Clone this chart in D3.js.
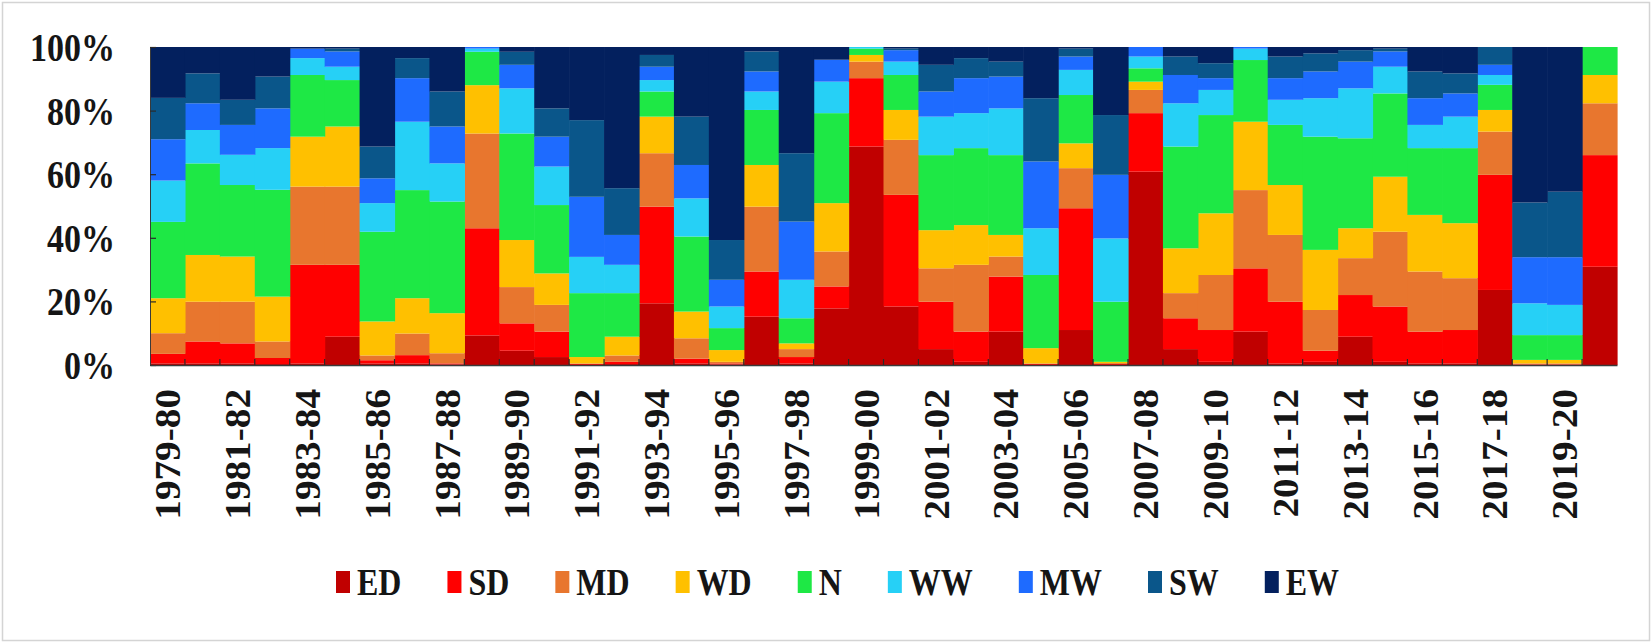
<!DOCTYPE html>
<html>
<head>
<meta charset="utf-8">
<script src="https://cdn.jsdelivr.net/npm/d3@7"></script>
<style>
  html, body { margin: 0; padding: 0; background: #ffffff; }
  svg text { font-family: "Liberation Serif", "Times New Roman", serif; font-weight: bold; fill: #151515; }
</style>
</head>
<body>
<svg id="chart" width="1652" height="643"></svg>
<script>
// ---------- data ----------
const seasons = [
  "1979-80","1980-81","1981-82","1982-83","1983-84","1984-85","1985-86","1986-87","1987-88","1988-89",
  "1989-90","1990-91","1991-92","1992-93","1993-94","1994-95","1995-96","1996-97","1997-98","1998-99",
  "1999-00","2000-01","2001-02","2002-03","2003-04","2004-05","2005-06","2006-07","2007-08","2008-09",
  "2009-10","2010-11","2011-12","2012-13","2013-14","2014-15","2015-16","2016-17","2017-18","2018-19",
  "2019-20","2020-21"
];
const tickLabels = [
  "1979-80","1981-82","1983-84","1985-86","1987-88","1989-90","1991-92","1993-94","1995-96","1997-98",
  "1999-00","2001-02","2003-04","2005-06","2007-08","2009-10","2011-12","2013-14","2015-16","2017-18","2019-20"
];
const yTickLabels = ["0%","20%","40%","60%","80%","100%"];
const seriesNames = ["ED","SD","MD","WD","N","WW","MW","SW","EW"];
const seriesColors = ["#C00000","#FF0000","#E8762E","#FFC000","#1EE845","#26D0F6","#1E6BFF","#0A568A","#03205E"];

const ED = [0.5,0.5,0.5,0.3,0.5,8.9,0.5,0.5,0.2,9.3, 4.5,2.5,0,0.3,19.4,0.5,0.2,15.2,0.5,17.8, 68.7,18.4,5,1,10.5,0,11,0,60.8,5, 1,10.5,0.5,1,8.9,1,0.5,0.5,23.6,0, 0,30.9];
const SD = [3,6.9,6.3,1.9,31,22.6,1,2.6,0.3,33.7, 8.6,8,0.3,0.7,30.4,1.5,0.3,14.2,2,6.9, 21.5,35.1,14.9,9.5,17.3,0.3,38.3,0.3,18.4,9.7, 10,19.9,19.4,3.5,13.1,17.4,10,10.5,36.2,0.2, 0.2,35.1];
const MD = [6.5,12.5,13.1,5.2,24.6,24.6,1.5,6.8,3.2,29.8, 11.4,8.4,0.2,2,16.8,6.4,0.5,20.4,2.5,11, 5.2,17.3,10.5,21,6.3,0.2,12.6,0.3,7.3,7.9, 17.3,24.6,21,12.8,11.6,23.5,18.9,16.3,13.6,0.3, 0.3,16.3];
const WD = [11,14.7,14.2,14.1,15.7,18.9,10.7,11.1,12.6,15.2, 14.8,9.9,2,5.9,11.5,8.4,3.7,13.1,1.8,15.2, 2.1,9.4,12,12.5,6.8,4.8,7.8,0.4,2.6,14.1, 19.4,21.5,15.7,18.9,9.4,17.3,17.8,17.3,6.8,1.1, 1.1,8.9];
const N  = [24,28.8,22.5,33.6,19.4,14.6,28.2,34,35.1,10.5, 33.5,21.5,20.1,13.7,7.9,23.6,6.9,17.3,7.9,28.3, 2,11,23.6,24.2,25.1,23,15.2,18.9,4.2,32, 30.9,19.4,18.9,35.6,28.3,26.2,21,23.6,7.9,7.8, 7.8,8.8];
const WW = [13,10.5,9.5,13.1,5.3,4.2,9,21.5,12,1, 14.2,12.1,11.4,8.9,3.6,12,6.8,5.8,12.1,9.9, 0.5,4.2,12.1,11,14.7,14.7,7.9,19.9,3.7,13.6, 7.9,3.6,7.9,12.1,15.7,8.4,7.3,9.9,3.1,10, 9.5,0];
const MW = [13,8.4,9.4,12.5,3,4.8,7.8,13.7,11.6,0.5, 7.4,9.4,18.9,9.4,4.2,10.5,8.4,6.3,18.3,6.9, 0,3.6,7.9,11,10,21,4.2,20,3,8.9, 3.7,0.5,6.8,8.4,8.4,4.8,8.4,7.3,3.2,14.5, 15,0];
const SW = [13,9.4,7.9,10,0,0.9,10,6.3,11,0, 4.1,8.9,24.1,14.7,3.7,15.2,12.5,6.3,21.5,0, 0,0.5,8.4,6.3,4.7,19.9,2.5,18.8,0,5.8, 4.7,0,6.8,5.7,3.6,0.9,8.4,6.3,5.6,17.2, 20.6,0];
const EW = [16,8.3,16.6,9.3,0.5,0.5,31.3,3.5,14,0, 1.5,19.3,23,44.4,2.5,21.9,60.7,1.4,33.4,4, 0,0.5,5.6,3.5,4.6,16.1,0.5,21.4,0,3, 5.1,0,3,2,1,0.5,7.7,8.3,0,48.9, 45.5,0];

const seriesValues = [ED, SD, MD, WD, N, WW, MW, SW, EW];

// ---------- layout ----------
const svg = d3.select("#chart");
const W = 1652, H = 643;
const margin = {left: 150, right: W - 1617, top: 47, bottom: H - 365};
const plotW = W - margin.left - margin.right;
const plotH = H - margin.top - margin.bottom;

// outer frame
svg.append("rect")
  .attr("x", 2.5).attr("y", 2.5).attr("width", W - 5).attr("height", H - 5)
  .attr("fill", "#ffffff").attr("stroke", "#d4d4d4").attr("stroke-width", 1.5);

const rows = seasons.map((s, i) => {
  const r = {season: s};
  seriesNames.forEach((k, j) => r[k] = seriesValues[j][i]);
  return r;
});

const stack = d3.stack().keys(seriesNames).offset(d3.stackOffsetExpand);
const layers = stack(rows);

const x = d3.scaleBand().domain(seasons).range([0, plotW]).paddingInner(0).paddingOuter(0);
const y = d3.scaleLinear().domain([0, 1]).range([plotH, 0]);
const color = d3.scaleOrdinal().domain(seriesNames).range(seriesColors);

const g = svg.append("g").attr("transform", `translate(${margin.left},${margin.top})`);

g.selectAll("g.layer")
  .data(layers)
  .join("g")
  .attr("class", "layer")
  .attr("fill", d => color(d.key))
  .selectAll("rect")
  .data(d => d)
  .join("rect")
  .attr("x", d => x(d.data.season))
  .attr("width", x.bandwidth() + 0.6)
  .attr("y", d => y(d[1]))
  .attr("height", d => Math.max(0, y(d[0]) - y(d[1])));

// y axis
const yAxis = d3.axisLeft(y)
  .tickValues([0, 0.2, 0.4, 0.6, 0.8, 1])
  .tickFormat((d, i) => yTickLabels[i])
  .tickSizeInner(-6).tickSizeOuter(0).tickPadding(35);
const yg = g.append("g").call(yAxis);
yg.select(".domain").attr("stroke", "#3a3a3a").attr("stroke-width", 1);
yg.selectAll(".tick line").attr("stroke", "#2a2a2a").attr("stroke-width", 1.2);
yg.selectAll("text")
  .attr("font-size", 34).attr("fill", "#151515").attr("dy", "0.34em")
  .attr("transform", "scale(1,1.16)");

// x axis
const labelSet = new Set(tickLabels);
const xAxis = d3.axisBottom(x)
  .tickValues(seasons)
  .tickFormat(d => labelSet.has(d) ? d : "")
  .tickSizeInner(0).tickSizeOuter(0);
const xg = g.append("g").attr("transform", `translate(0,${plotH})`).call(xAxis);
xg.select(".domain").attr("stroke", "#3a3a3a").attr("stroke-width", 1.5);
xg.selectAll(".tick text")
  .attr("font-size", 36)
  .attr("fill", "#151515")
  .attr("text-anchor", "end")
  .attr("transform", "scale(1,1.09) rotate(-90)")
  .attr("x", -22)
  .attr("y", 0)
  .attr("dy", "0.35em");

// small inward ticks on boundaries
const boundaries = seasons.slice(1).map(s => x(s));
g.append("g").selectAll("line")
  .data(boundaries)
  .join("line")
  .attr("x1", d => d).attr("x2", d => d)
  .attr("y1", plotH).attr("y2", plotH - 6)
  .attr("stroke", "#2a2a2a").attr("stroke-width", 1.2);

// legend
const legend = svg.append("g").attr("transform", "translate(336,582)");
let lx = 0;
seriesNames.forEach((name, i) => {
  const item = legend.append("g").attr("transform", `translate(${lx},0)`);
  item.append("rect").attr("x", 0).attr("y", -11).attr("width", 14).attr("height", 22).attr("fill", seriesColors[i]);
  const t = item.append("text").attr("x", 21).attr("y", 0).attr("dy", "0.35em")
    .attr("font-size", 32).attr("transform", "scale(1,1.18)").text(name);
  lx += 21 + t.node().getComputedTextLength() + 46;
});
</script>
</body>
</html>
